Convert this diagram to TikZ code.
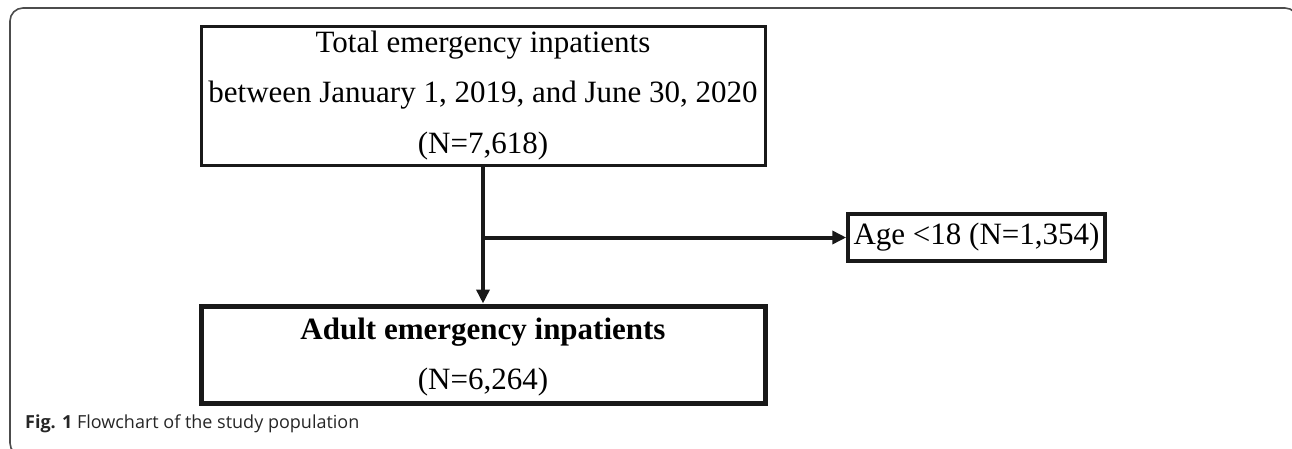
\documentclass[tikz,border=0pt]{standalone}
\usepackage{fontspec}
\setmainfont{Liberation Serif}
\newfontfamily\capfont{Open Sans}
\usetikzlibrary{arrows.meta}
\begin{document}
\begin{tikzpicture}[x=1pt,y=-1pt,
  boxA/.style={draw=black!90, inner sep=0pt, align=center,
    font=\fontsize{31}{50.5}\selectfont},
  link/.style={draw=black!90, line width=4pt,
    -{Triangle[length=14pt,width=13pt]}},
  frame/.style={draw=black!70, line width=1.6pt, rounded corners=13pt},
  captext/.style={inner sep=0pt, anchor=base west,
    font=\capfont\fontsize{18}{21}\selectfont, text=black!85}
]
\useasboundingbox (0,0) rectangle (1292,449);
\draw[frame] (10,8) rectangle (1298,456);

\node[boxA, line width=3pt, minimum width=564pt, minimum height=139pt] (top) at (483,96.5)
  {Total emergency inpatients\\ between January 1, 2019, and June 30, 2020\\ (N=7,618)\rule[-9pt]{0pt}{9pt}};

\node[boxA, line width=3.5pt, minimum width=257pt, minimum height=47pt] (age) at (976.5,237.5)
  {Age <18 (N=1,354)};

\node[boxA, line width=5pt, minimum width=564pt, minimum height=97pt] (bot) at (483,354.5)
  {\rule{0pt}{27pt}\textbf{Adult emergency inpatients}\\ (N=6,264)};

\draw[link] (top.south) -- (bot.north);
\draw[link] (top.south |- age.west) -- (age.west);

\node[captext] (cap) at (25,428) {\textbf{Fig. 1} Flowchart of the study population};
\end{tikzpicture}
\end{document}
